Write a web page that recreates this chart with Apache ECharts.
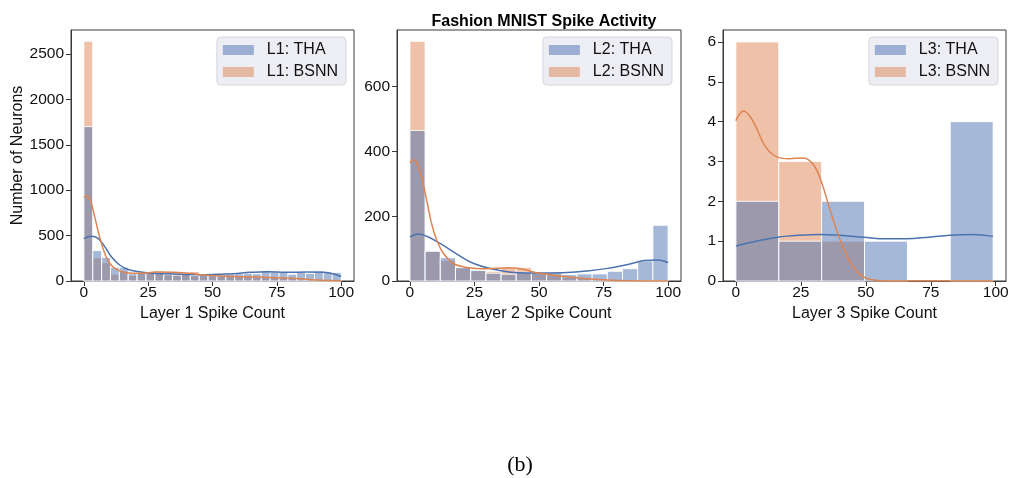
<!DOCTYPE html>
<html>
<head>
<meta charset="utf-8">
<script src="https://cdn.jsdelivr.net/npm/echarts@6/dist/echarts.min.js"></script>
<style>
html,body{margin:0;padding:0;background:#fff;}
#chart{width:1015px;height:478px;}
</style>
</head>
<body>
<div id="chart"></div>
<script>
// ---------- DATA ----------
const title = 'Fashion MNIST Spike Activity';
const caption = '(b)';
const yAxisTitle = 'Number of Neurons';
const xAxisTitles = ['Layer 1 Spike Count', 'Layer 2 Spike Count', 'Layer 3 Spike Count'];
const legendNames = [['L1: THA', 'L1: BSNN'], ['L2: THA', 'L2: BSNN'], ['L3: THA', 'L3: BSNN']];
const xTicks = [0, 25, 50, 75, 100];
const yTicks1 = [0, 500, 1000, 1500, 2000, 2500];
const yTicks2 = [0, 200, 400, 600];
const yTicks3 = [0, 1, 2, 3, 4, 5, 6];

// histogram bin ranges [lo, hi, count of bins]
const l1BinRange = [0, 100, 29];
const l2BinRange = [0, 100, 17];
const l3BinRange = [0, 99, 6];

// histogram counts
const l1Tha  = [1700, 335, 260, 150, 150, 80, 90, 90, 85, 70, 65, 75, 60, 70, 60, 70, 75, 80, 85, 80, 115, 100, 95, 75, 95, 85, 110, 100, 95];
const l1Bsnn = [2640, 255, 200, 75, 110, 60, 95, 100, 110, 95, 100, 90, 105, 60, 70, 50, 60, 60, 50, 45, 40, 40, 35, 30, 30, 20, 15, 10, 5];
const l2Tha  = [465, 92, 72, 42, 33, 24, 21, 27, 26, 26, 20, 22, 22, 30, 38, 62, 172];
const l2Bsnn = [740, 92, 63, 40, 32, 30, 42, 42, 25, 20, 12, 10, 6, 5, 3, 2, 1];
const l3Tha  = [2, 1, 2, 1, 0, 4];
const l3Bsnn = [6, 3, 1, 0, 0, 0];

// KDE curves [x, density-scaled count]
const l1ThaKde  = [[0,466],[2.9,492],[5.5,470],[8.1,378],[10.7,268],[13.9,176],[17.8,121],[24.3,92],[30.8,81],[37.3,73],[45.1,70],[51.6,74],[58.1,81],[64.6,95],[71.1,103],[78.9,95],[86.7,99],[93.2,95],[97.1,77],[100,50]];
const l1BsnnKde = [[0,921],[1.2,940],[2.5,892],[4.2,708],[6.1,488],[8.1,305],[10,195],[12.6,128],[16.5,92],[21.7,84],[28.2,99],[34.7,95],[41.2,84],[46.4,66],[52.9,55],[63.3,48],[71.1,40],[81.5,29],[90.6,11],[100,4]];
const l2ThaKde  = [[0,136],[3.2,145],[6.5,138],[11.7,116],[18.2,83],[24.7,54],[32.5,36],[39,27],[45.5,25],[53.2,25],[61,26],[68.8,31],[76.6,39],[84.4,51],[90.9,63],[96.1,65],[100,57]];
const l2BsnnKde = [[0,364],[1.3,374],[2.6,367],[4.5,321],[6.5,249],[8.4,177],[10.4,126],[13,85],[16.9,54],[22.1,42],[29.9,38],[37.7,41],[42.9,38],[48.1,27],[53.2,21],[61,13],[68.8,7],[76.6,3],[84.4,1],[100,0]];
const l3ThaKde  = [[0,0.88],[7.7,1.0],[16,1.10],[24.3,1.15],[32.7,1.17],[41,1.14],[49.1,1.10],[57.7,1.06],[65.6,1.06],[74.3,1.10],[82.3,1.15],[91,1.17],[99,1.12]];
const l3BsnnKde = [[0,4.02],[1.3,4.18],[2.9,4.27],[5.1,4.16],[7.7,3.87],[11.5,3.36],[16,3.11],[20.5,3.07],[25.6,3.09],[29.5,2.95],[32.7,2.53],[35.9,1.86],[39.7,1.10],[43.6,0.52],[47.4,0.18],[52.5,0.03],[59,0],[82.3,0],[99,0]];

// ---------- STYLE ----------
const BLUE = '#4C72B0', ORANGE = '#DD8452';
const BLUE_FILL = 'rgba(76,114,176,0.5)', ORANGE_FILL = 'rgba(221,132,82,0.5)';
const SANS = '"Liberation Sans", Arial, sans-serif';
const AXC = '#3a3a3a';

function binned(range, counts) {
  const lo = range[0], hi = range[1], n = range[2];
  const w = (hi - lo) / n;
  return counts.map((c, i) => [lo + i * w, lo + (i + 1) * w, c]);
}

function renderBar(params, api) {
  const x0 = api.value(0), x1 = api.value(1), v = api.value(2);
  if (!v) return null;
  const p0 = api.coord([x0, v]);
  const p1 = api.coord([x1, 0]);
  return {
    type: 'rect',
    shape: { x: p0[0], y: p0[1], width: p1[0] - p0[0], height: p1[1] - p0[1] },
    style: { fill: api.visual('color'), stroke: 'rgba(255,255,255,0.9)', lineWidth: 1 }
  };
}

const grids = [
  { left: 71, top: 30, width: 283, height: 251 },
  { left: 397, top: 30, width: 284, height: 251 },
  { left: 723, top: 30, width: 283, height: 251 }
];
const xRanges = [[-5, 105], [-5, 105], [-4.95, 103.95]];
const yMax = [2764, 775, 6.3];
const yTicks = [yTicks1, yTicks2, yTicks3];
const legendRight = [669, 343, 17];
const binRanges = [l1BinRange, l2BinRange, l3BinRange];
const thaCounts = [l1Tha, l2Tha, l3Tha];
const bsnnCounts = [l1Bsnn, l2Bsnn, l3Bsnn];
const thaKde = [l1ThaKde, l2ThaKde, l3ThaKde];
const bsnnKde = [l1BsnnKde, l2BsnnKde, l3BsnnKde];

const plain = v => String(v);

const xAxes = [], yAxes = [], series = [], legends = [];
for (let i = 0; i < 3; i++) {
  xAxes.push({
    type: 'value', gridIndex: i, min: xRanges[i][0], max: xRanges[i][1],
    name: xAxisTitles[i], nameLocation: 'middle', nameGap: 22,
    nameTextStyle: { fontFamily: SANS, fontSize: 16, color: '#111' },
    axisLine: { show: true, onZero: false, lineStyle: { color: AXC, width: 1 } },
    axisTick: { show: true, length: 5, lineStyle: { color: AXC }, customValues: xTicks },
    axisLabel: { fontFamily: SANS, fontSize: 15.5, color: '#111', margin: 4, customValues: xTicks, formatter: plain },
    splitLine: { show: false }
  });
  yAxes.push({
    type: 'value', gridIndex: i, min: 0, max: yMax[i],
    name: i === 0 ? yAxisTitle : '', nameLocation: 'middle', nameGap: 40,
    nameTextStyle: { fontFamily: SANS, fontSize: 16, color: '#111' },
    axisLine: { show: true, onZero: false, lineStyle: { color: AXC, width: 1 } },
    axisTick: { show: true, length: 5, lineStyle: { color: AXC }, customValues: yTicks[i] },
    axisLabel: { fontFamily: SANS, fontSize: 15.5, color: '#111', margin: 7, customValues: yTicks[i], formatter: plain },
    splitLine: { show: false }
  });
  series.push({
    type: 'custom', name: legendNames[i][1], xAxisIndex: i, yAxisIndex: i,
    renderItem: renderBar, itemStyle: { color: ORANGE_FILL },
    encode: { x: [0, 1], y: 2 }, data: binned(binRanges[i], bsnnCounts[i]), z: 2
  });
  series.push({
    type: 'custom', name: legendNames[i][0], xAxisIndex: i, yAxisIndex: i,
    renderItem: renderBar, itemStyle: { color: BLUE_FILL },
    encode: { x: [0, 1], y: 2 }, data: binned(binRanges[i], thaCounts[i]), z: 3
  });
  series.push({
    type: 'line', name: legendNames[i][0] + ' kde', xAxisIndex: i, yAxisIndex: i,
    data: thaKde[i], smooth: 0.4, showSymbol: false, silent: true,
    lineStyle: { color: BLUE, width: 1.5 }, itemStyle: { color: BLUE }, z: 4
  });
  series.push({
    type: 'line', name: legendNames[i][1] + ' kde', xAxisIndex: i, yAxisIndex: i,
    data: bsnnKde[i], smooth: 0.4, showSymbol: false, silent: true,
    lineStyle: { color: ORANGE, width: 1.5 }, itemStyle: { color: ORANGE }, z: 4
  });
  legends.push({
    data: legendNames[i], orient: 'vertical', right: legendRight[i], top: 37,
    icon: 'rect', itemWidth: 31, itemHeight: 10, itemGap: 4,
    padding: [4, 8, 4, 6], selectedMode: false,
    backgroundColor: 'rgba(236,236,243,0.95)', borderColor: '#d6d6de', borderWidth: 1, borderRadius: 4,
    textStyle: { fontFamily: SANS, fontSize: 16, color: '#111', lineHeight: 18, padding: [0, 0, 0, 8] },
    itemStyle: { borderWidth: 0 }
  });
}

const chart = echarts.init(document.getElementById('chart'), null, { renderer: 'canvas' });
chart.setOption({
  animation: false,
  backgroundColor: '#ffffff',
  title: [
    { text: title, left: 539, top: 9, textAlign: 'center',
      textStyle: { fontFamily: SANS, fontSize: 16, fontWeight: 'bold', color: '#000' } },
    { text: caption, left: 515, top: 449, textAlign: 'center',
      textStyle: { fontFamily: '"Liberation Serif", "Times New Roman", serif', fontSize: 22, fontWeight: 'normal', color: '#000' } }
  ],
  grid: grids.map(g => Object.assign({ show: true, borderColor: AXC, borderWidth: 1, backgroundColor: 'transparent', containLabel: false }, g)),
  legend: legends,
  xAxis: xAxes,
  yAxis: yAxes,
  series: series
});
</script>
</body>
</html>
